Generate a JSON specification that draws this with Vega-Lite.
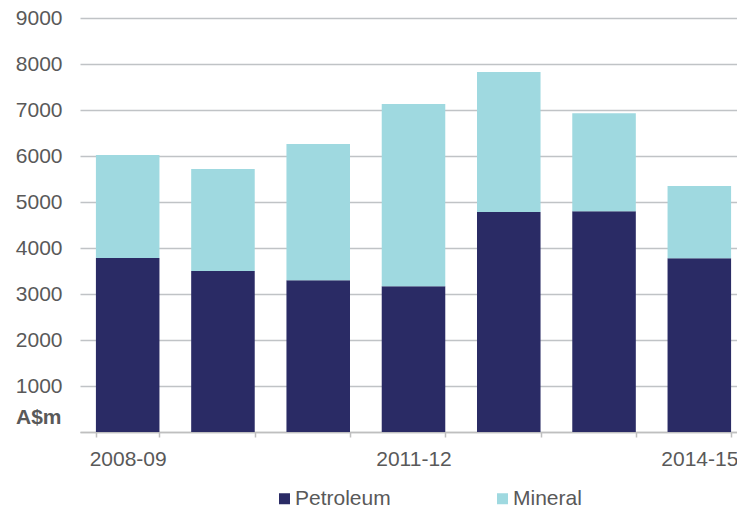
{
  "$schema": "https://vega.github.io/schema/vega-lite/v6.json",
  "autosize": "none",
  "width": 657,
  "height": 414,
  "padding": {"left": 80, "top": 18, "right": 0, "bottom": 74},
  "background": "white",
  "config": {
    "view": {"stroke": null},
    "font": "Liberation Sans",
    "axis": {"labelFont": "Liberation Sans", "titleFont": "Liberation Sans"}
  },
  "data": {
    "values": [
      {"year": "2008-09", "series": "Petroleum", "value": 3780},
      {"year": "2008-09", "series": "Mineral", "value": 2240},
      {"year": "2009-10", "series": "Petroleum", "value": 3500},
      {"year": "2009-10", "series": "Mineral", "value": 2220},
      {"year": "2010-11", "series": "Petroleum", "value": 3300},
      {"year": "2010-11", "series": "Mineral", "value": 2960},
      {"year": "2011-12", "series": "Petroleum", "value": 3170},
      {"year": "2011-12", "series": "Mineral", "value": 3960},
      {"year": "2012-13", "series": "Petroleum", "value": 4780},
      {"year": "2012-13", "series": "Mineral", "value": 3046},
      {"year": "2013-14", "series": "Petroleum", "value": 4800},
      {"year": "2013-14", "series": "Mineral", "value": 2128},
      {"year": "2014-15", "series": "Petroleum", "value": 3775},
      {"year": "2014-15", "series": "Mineral", "value": 1573}
    ]
  },
  "mark": {"type": "bar"},
  "encoding": {
    "x": {
      "field": "year",
      "type": "nominal",
      "sort": null,
      "scale": {"range": [0, 667], "paddingInner": 0.333, "paddingOuter": 0.167},
      "axis": {
        "title": null,
        "labelAngle": 0,
        "labelFontSize": 21,
        "labelColor": "#595959",
        "labelPadding": 11,
        "labelExpr": "indexof(['2008-09','2011-12','2014-15'], datum.label) >= 0 ? datum.label : ''",
        "tickBand": "extent",
        "tickSize": 5,
        "tickColor": "#bfbfbf",
        "tickWidth": 1.5,
        "domainColor": "#bfbfbf",
        "domainWidth": 1.5,
        "grid": false
      }
    },
    "y": {
      "field": "value",
      "type": "quantitative",
      "stack": "zero",
      "scale": {"domain": [0, 9000], "nice": false},
      "axis": {
        "values": [0, 1000, 2000, 3000, 4000, 5000, 6000, 7000, 8000, 9000],
        "labelExpr": "datum.value == 0 ? '' : datum.value",
        "labelFontSize": 21,
        "labelColor": "#595959",
        "labelPadding": 18,
        "ticks": false,
        "domain": false,
        "grid": true,
        "gridColor": "#c0c3c6",
        "gridWidth": 1.5,
        "title": "A$m",
        "titleAngle": 0,
        "titleX": -19,
        "titleY": 399,
        "titleAlign": "right",
        "titleBaseline": "middle",
        "titleFontSize": 21,
        "titleFontWeight": "bold",
        "titleColor": "#595959"
      }
    },
    "color": {
      "field": "series",
      "type": "nominal",
      "scale": {"domain": ["Petroleum", "Mineral"], "range": ["#2a2b65", "#9fd9e0"]},
      "legend": {
        "title": null,
        "orient": "none",
        "direction": "horizontal",
        "legendX": 194,
        "legendY": 470,
        "padding": 0,
        "symbolType": "square",
        "symbolSize": 121,
        "symbolStrokeWidth": 0,
        "labelFontSize": 21,
        "labelColor": "#595959",
        "labelOffset": 0,
        "labelLimit": 300,
        "columnPadding": 101
      }
    },
    "order": {"field": "series", "sort": "descending"}
  }
}
